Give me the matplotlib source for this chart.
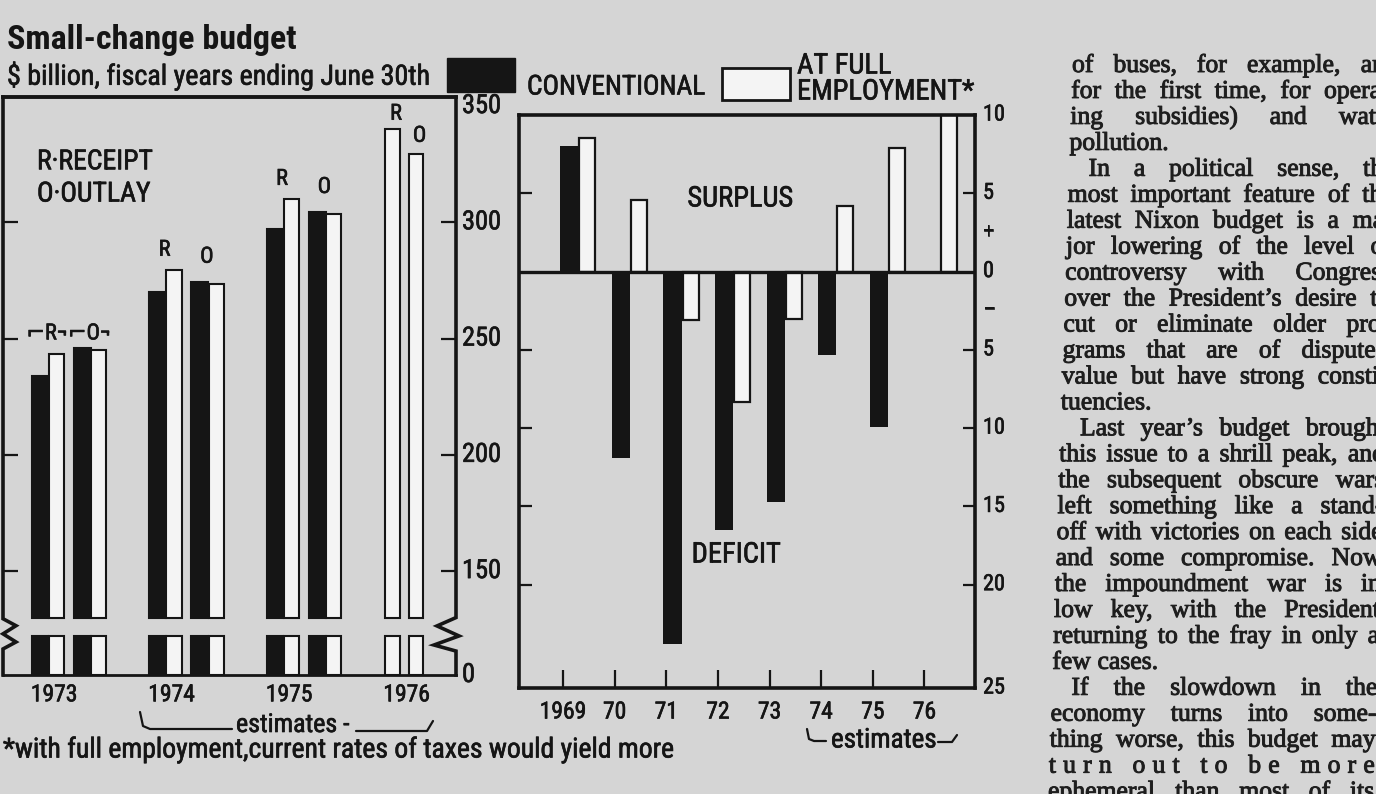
import matplotlib
matplotlib.use("Agg")
import matplotlib.pyplot as plt
from matplotlib import font_manager, patheffects
from matplotlib.lines import Line2D
from matplotlib.patches import Rectangle
import matplotlib.transforms as mtransforms

# ---------------- data ----------------
left_years = ["1973", "1974", "1975", "1976"]
receipts_conventional = [234, 270, 297, None]
receipts_full_employment = [243.5, 279.5, 310, 340]
outlays_conventional = [246, 274.5, 304.5, None]
outlays_full_employment = [245, 273.5, 303.5, 329.5]
receipt_labels = ["\u2310R\u00ac", "R", "R", "R"]
outlay_labels = ["\u2310O\u00ac", "O", "O", "O"]
left_tick_values = [150, 200, 250, 300]
left_label_values = [150, 200, 250, 300, 350]

right_years = ["1969", "70", "71", "72", "73", "74", "75", "76"]
balance_conventional = [8.0, -11.9, -23.8, -16.5, -14.7, -5.3, -9.9, None]
balance_full_employment = [8.5, 4.6, -3.1, -8.3, -3.0, 4.2, 7.9, 10.5]
right_tick_values = [5, -5, -10, -15, -20]
right_label_values = [10, 5, 2.5, 0, -2.5, -5, -10, -15, -20]
right_label_texts = ["10", "5", "+", "0", "\u2013", "5", "10", "15", "20"]

article = [
    "of buses, for example, and",
    "for the first time, for operat-",
    "ing subsidies) and water",
    "pollution.",
    "\tIn a political sense, the",
    "most important feature of the",
    "latest Nixon budget is a ma-",
    "jor lowering of the level of",
    "controversy with Congress",
    "over the President\u2019s desire to",
    "cut or eliminate older pro-",
    "grams that are of disputed",
    "value but have strong consti-",
    "tuencies.",
    "\tLast year\u2019s budget brought",
    "this issue to a shrill peak, and",
    "the subsequent obscure wars",
    "left something like a stand-",
    "off with victories on each side",
    "and some compromise. Now",
    "the impoundment war is in",
    "low key, with the President",
    "returning to the fray in only a",
    "few cases.",
    "\tIf the slowdown in the",
    "economy turns into some-",
    "thing worse, this budget may",
    "turn out to be more",
    "ephemeral than most of its",
]
letter_spaced_lines = {27}

# ---------------- styling ----------------
W, H = 1376, 794
BG = "#d5d5d5"
INK = "#151515"
WHITE = "#f4f4f4"

installed = {f.name for f in font_manager.fontManager.ttflist}
COND = "Roboto"
for cand in ["Liberation Sans Narrow", "Roboto Condensed", "Open Sans Condensed"]:
    if cand in installed:
        COND = cand
        break
SANS = [COND, "DejaVu Sans"]
SERIF = ["Liberation Serif", "DejaVu Serif"]
plt.rcParams["font.family"] = SANS

fig = plt.figure(figsize=(W / 100, H / 100), dpi=100, facecolor=BG)
renderer = fig.canvas.get_renderer()
INKFX = [patheffects.withStroke(linewidth=0.45, foreground=INK)]


def fx(x):
    return x / W


def fy(y):
    return 1 - y / H


def measure(s, size, family=SANS, weight="normal"):
    fp = font_manager.FontProperties(family=family, size=size, weight=weight)
    w, h, d = renderer.get_text_width_height_descent(s, fp, ismath=False)
    return w


def fit(s, target_w, weight="normal", family=SANS):
    return 10 * target_w / measure(s, 10, family, weight)


def ftext(x, y, s, size, ha="left", va="center", weight="normal",
          family=SANS, color=INK, effects=True, **kw):
    return fig.text(fx(x), fy(y), s, fontsize=size, ha=ha, va=va,
                    fontweight=weight, family=family, color=color,
                    path_effects=INKFX if effects else None, **kw)


def fline(xs, ys, lw=1.6):
    fig.add_artist(Line2D([fx(v) for v in xs], [fy(v) for v in ys],
                          transform=fig.transFigure, color=INK, lw=lw,
                          solid_capstyle="round", solid_joinstyle="round"))


# ---------------- header ----------------
ftext(7, 40, "Small-change budget", fit("Small-change budget", 290, "bold"),
      weight="bold", effects=False)
ftext(7, 76, "$ billion, fiscal years ending June 30th",
      fit("$ billion, fiscal years ending June 30th", 421))
fig.add_artist(Rectangle((fx(447), fy(92)), (515 - 447) / W, (92 - 58) / H,
                         transform=fig.transFigure, facecolor=INK, edgecolor=INK))
fig.add_artist(Rectangle((fx(722), fy(100)), (790 - 722) / W, (100 - 68) / H,
                         transform=fig.transFigure, facecolor=WHITE, edgecolor=INK, lw=2))
ftext(527, 87, "CONVENTIONAL", fit("CONVENTIONAL", 178))
emp_size = fit("EMPLOYMENT*", 178)
ftext(797, 66, "AT FULL", emp_size)
ftext(797, 92, "EMPLOYMENT*", emp_size)

# ---------------- left chart: receipts / outlays ----------------
L_BOTTOM, L_TOP = 105.3, 353.9
BREAK_LO, BREAK_HI = 122, 130
axL = fig.add_axes([fx(3), fy(675), (456 - 3) / W, (675 - 97) / H])
axL.set_facecolor("none")
axL.set_xlim(-0.315, 3.54)
axL.set_ylim(L_BOTTOM, L_TOP)


def broken_bar(ax, x, value, width, face):
    kw = dict(width=width, facecolor=face, edgecolor=INK, linewidth=1.5, zorder=2)
    ax.bar(x, BREAK_LO - L_BOTTOM, bottom=L_BOTTOM, **kw)
    ax.bar(x, value - BREAK_HI, bottom=BREAK_HI, **kw)


for g in range(len(left_years)):
    rc, rf = receipts_conventional[g], receipts_full_employment[g]
    oc, of = outlays_conventional[g], outlays_full_employment[g]
    if rc is None:
        broken_bar(axL, g, rf, 0.12, WHITE)
        broken_bar(axL, g + 0.2, of, 0.12, WHITE)
        r_x, o_x, r_top, o_top = g + 0.03, g + 0.23, rf - 2, of - 1
    else:
        broken_bar(axL, g, rc, 0.14, INK)
        broken_bar(axL, g + 0.14, rf, 0.135, WHITE)
        broken_bar(axL, g + 0.36, oc, 0.145, INK)
        broken_bar(axL, g + 0.5, of, 0.13, WHITE)
        r_x, o_x, r_top, o_top = g + 0.06, g + 0.42, max(rc, rf), max(oc, of) + 2
    if g == 0:
        r_top = o_top = max(r_top, o_top) - 4.5
    axL.text(r_x, r_top + 8.5, receipt_labels[g], ha="center", va="center",
             fontsize=16, color=INK, family=SANS, path_effects=INKFX)
    axL.text(o_x, o_top + 8.5, outlay_labels[g], ha="center", va="center",
             fontsize=16, color=INK, family=SANS, path_effects=INKFX)

axL.text(0.075, 0.86, "R\u00b7RECEIPT\nO\u00b7OUTLAY", transform=axL.transAxes,
         ha="left", va="center", fontsize=fit("R\u00b7RECEIPT", 116),
         linespacing=1.25, color=INK, path_effects=INKFX)

axL.set_yticks(left_tick_values)
axL.tick_params(axis="y", direction="in", left=True, right=True, length=11,
                width=1.6, color=INK, labelleft=False, labelright=False)
axL.set_xticks([g + 0.12 for g in range(len(left_years))])
axL.set_xticklabels(left_years, fontsize=17, color=INK)
for t in axL.get_xticklabels():
    t.set_path_effects(INKFX)
axL.tick_params(axis="x", length=0, pad=6)
for side in ["left", "right"]:
    axL.spines[side].set_visible(False)
axL.spines["top"].set_linewidth(2.8)
axL.spines["bottom"].set_linewidth(2.0)
axL.spines["top"].set_color(INK)
axL.spines["bottom"].set_color(INK)

blendL = mtransforms.blended_transform_factory(axL.transAxes, axL.transData)
axw = 453.0
# right spine with zig-zag break
zr = [(0, L_TOP), (0, 130), (-19, 126.4), (3, 122.1), (-22, 118.2), (0, 115.6), (0, L_BOTTOM)]
axL.add_line(Line2D([1 + p[0] / axw for p in zr], [p[1] for p in zr], transform=blendL,
                    color=INK, lw=2.6, clip_on=False, solid_joinstyle="miter"))
zl = [(0, L_TOP), (0, 129.5), (13, 126.5), (0, 123), (13, 119.5), (0, 116.5), (0, L_BOTTOM)]
axL.add_line(Line2D([p[0] / axw for p in zl], [p[1] for p in zl], transform=blendL,
                    color=INK, lw=2.6, clip_on=False, solid_joinstyle="miter"))
for v in left_label_values:
    axL.text(1 + 6 / axw, v, str(v), transform=blendL, ha="left", va="center",
             fontsize=19, color=INK, path_effects=INKFX)
axL.text(1 + 6 / axw, L_BOTTOM, "0", transform=blendL, ha="left", va="center",
         fontsize=19, color=INK, path_effects=INKFX)

# left "estimates" bracket
fline([140, 143, 150, 232], [712, 726, 729, 729])
ftext(236, 725, "estimates -", fit("estimates -", 112))
fline([356, 427, 433], [731, 731, 721])

# footnote
foot = "*with full employment,current rates of taxes would yield more"
ftext(3, 750, foot, fit(foot, 667))

# ---------------- right chart: surplus / deficit ----------------
axR = fig.add_axes([fx(519), fy(688), (975 - 519) / W, (688 - 115) / H])
axR.set_facecolor("none")
axR.set_xlim(-0.853, 7.98)
axR.set_ylim(-26.6, 10.0)
xs = list(range(len(right_years)))
conv_x = [x + 0.12 for x, v in zip(xs, balance_conventional) if v is not None]
conv_v = [v for v in balance_conventional if v is not None]
axR.bar(conv_x, conv_v, width=0.35, color=INK, zorder=2)
axR.bar([x + 0.47 for x in xs], balance_full_employment, width=0.31,
        facecolor=WHITE, edgecolor=INK, linewidth=1.6, zorder=2)
axR.axhline(0, color=INK, lw=2.4, zorder=3)
axR.set_yticks(right_tick_values)
axR.tick_params(axis="y", direction="in", left=True, right=True, length=9,
                width=1.6, color=INK, labelleft=False, labelright=False)
axR.set_xticks(xs)
axR.set_xticklabels(right_years, fontsize=17, color=INK)
for t in axR.get_xticklabels():
    t.set_path_effects(INKFX)
axR.tick_params(axis="x", direction="in", length=13, width=1.6, color=INK, pad=9)
for sp in axR.spines.values():
    sp.set_linewidth(2.6)
    sp.set_color(INK)
blendR = mtransforms.blended_transform_factory(axR.transAxes, axR.transData)
for v, t in zip(right_label_values, right_label_texts):
    axR.text(1 + 8 / 456, v, t, transform=blendR, ha="left", va="center",
             fontsize=16, color=INK, path_effects=INKFX)
axR.text(1 + 8 / 456, -26.6, "25", transform=blendR, ha="left", va="center",
         fontsize=16, color=INK, path_effects=INKFX)
ftext(740, 199, "SURPLUS", fit("SURPLUS", 106), ha="center")
ftext(736, 555, "DEFICIT", fit("SURPLUS", 106), ha="center")

# right "estimates" bracket
fline([807, 809, 814, 826], [729, 739, 741, 741])
ftext(831, 740, "estimates", fit("estimates", 104))
fline([938, 952, 957], [742, 742, 735])

# ---------------- article column ----------------
ART_SIZE = 18.5
stroke = [patheffects.withStroke(linewidth=0.7, foreground="#222222")]
for i, line in enumerate(article):
    yc = 65 + 25.95 * i
    base = yc + 7
    left = 1072 - (yc - 65) * 0.033
    right = 1398 - (yc - 65) * 0.033
    indent = line.startswith("\t")
    text = line.lstrip("\t")
    if indent:
        left += 20
    para_end = (i + 1 < len(article) and article[i + 1].startswith("\t"))
    if i in letter_spaced_lines:
        units = list(text)
    else:
        units = text.split(" ")
    widths = [measure(u, ART_SIZE, SERIF) for u in units]
    space = measure("n", ART_SIZE, SERIF) * 0.5
    if para_end:
        gap = space
    else:
        gap = max((right - left - sum(widths)) / max(len(units) - 1, 1), 3)
    x = left
    for u, w in zip(units, widths):
        if u.strip():
            fig.text(fx(x), fy(base), u, fontsize=ART_SIZE, family=SERIF,
                     ha="left", va="baseline", color="#1e1e1e", path_effects=stroke)
        x += w + gap

fig.savefig("out.png", dpi=100, facecolor=BG)
